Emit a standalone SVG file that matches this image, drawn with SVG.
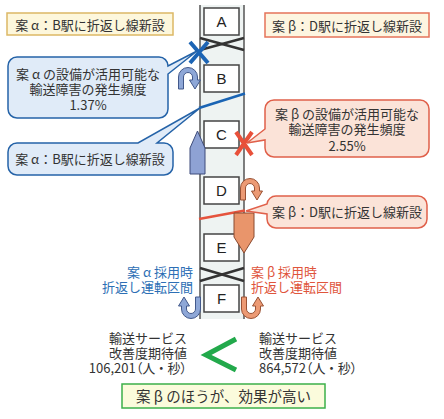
<svg xmlns="http://www.w3.org/2000/svg" width="444" height="419" viewBox="0 0 444 419">
<style>
text{font-family:"Noto Sans CJK JP","Noto Sans",sans-serif;font-size:13px;fill:#333}
.st{font-family:"Liberation Sans","Noto Sans",sans-serif;font-size:15px;text-anchor:middle;fill:#222}
.box{fill:#fff;stroke:#444;stroke-width:1.5}
.rail{stroke:#555;stroke-width:1.5}
.xo{stroke:#333;stroke-width:2.5}
.bl{fill:#e0ebf8;stroke:#2563a8;stroke-width:1.5}
.rd{fill:#fbe3d8;stroke:#e0604a;stroke-width:1.5}
.c{text-anchor:middle}
.ua{fill:#8ea7d7;stroke:#43598b;stroke-width:1}
.ur{fill:#ec9a74;stroke:#9a5234;stroke-width:1}
.p{font-feature-settings:"palt"}
</style>
<defs>
<path id="uarrow" d="M-9.5,10 L-9.5,-2 A9.5,9.5 0 0 1 9.5,-2 L9.5,1 L12.5,1 L7,10 L1.5,1 L4.5,1 L4.5,-2 A4.5,4.5 0 0 0 -4.5,-2 L-4.5,10 Z"/>
</defs>
<rect width="444" height="419" fill="#fff"/>
<g id="track">
<rect x="200" y="5" width="44" height="314" fill="#eef3f2"/>
<line class="rail" x1="200" y1="5" x2="200" y2="319"/>
<line class="rail" x1="244" y1="5" x2="244" y2="319"/>
<line class="xo" x1="200" y1="38" x2="244" y2="50"/>
<line class="xo" x1="200" y1="50" x2="244" y2="38"/>
<line class="xo" x1="200" y1="268" x2="244" y2="281"/>
<line class="xo" x1="200" y1="281" x2="244" y2="268"/>
</g>
<g id="stA"><rect class="box" x="204" y="8" width="35" height="27"/><text class="st" x="221.5" y="27">A</text></g>
<g id="stB"><rect class="box" x="204" y="65" width="35" height="27"/><text class="st" x="221.5" y="84">B</text></g>
<g id="stC"><rect class="box" x="204" y="121" width="35" height="27"/><text class="st" x="221.5" y="140">C</text></g>
<g id="stD"><rect class="box" x="204" y="177" width="35" height="27"/><text class="st" x="221.5" y="196">D</text></g>
<g id="stE"><rect class="box" x="204" y="234" width="35" height="27"/><text class="st" x="221.5" y="253">E</text></g>
<g id="stF"><rect class="box" x="204" y="285" width="35" height="27"/><text class="st" x="221.5" y="304">F</text></g>
<g id="connectors">
<line x1="199" y1="108" x2="245" y2="93.5" stroke="#1a64b4" stroke-width="2.5"/>
<line x1="199" y1="219" x2="245" y2="210.5" stroke="#e5533d" stroke-width="2.5"/>
</g>
<g id="trainA"><polygon points="190,148 197.5,131 205,148 205,174 190,174" fill="#8ea2d4" stroke="#3d4b7a" stroke-width="1"/></g>
<g id="trainB"><polygon points="234,213 254,213 254,237 244,253 234,237" fill="#e9956b" stroke="#8a4a30" stroke-width="1"/></g>
<g id="turns">
<use href="#uarrow" class="ua" transform="translate(188,79)"/>
<use href="#uarrow" class="ur" transform="translate(250,190)"/>
<use href="#uarrow" class="ua" transform="translate(191,307) rotate(180)"/>
<use href="#uarrow" class="ur" transform="translate(251,307) scale(1,-1)"/>
</g>
<g id="xmarks">
<path d="M190,42 L208,63 M208,42 L190,63" stroke="#1c64b4" stroke-width="4"/>
<path d="M236,132 L252,155 M252,132 L236,155" stroke="#e8503a" stroke-width="4"/>
</g>
<g id="labelA">
<rect x="7" y="13" width="166" height="22" fill="#fdf7dc" stroke="#dcb865" stroke-width="1.5"/>
<text class="c" x="90" y="30">案 α：B駅に折返し線新設</text>
</g>
<g id="labelB">
<rect x="265" y="13" width="164" height="24" fill="#fdf5e0" stroke="#e5735a" stroke-width="1.5"/>
<text class="c" x="347" y="31">案 β：D駅に折返し線新設</text>
</g>
<g id="calloutA1">
<path class="bl" d="M17,57 H159 A9,9 0 0 1 168,66 L197,51 L168,74 V109 A9,9 0 0 1 159,118 H17 A9,9 0 0 1 8,109 V66 A9,9 0 0 1 17,57 Z"/>
<text class="c" x="88" y="79">案 α の設備が活用可能な<tspan x="88" dy="15">輸送障害の発生頻度</tspan><tspan x="88" dy="16">1.37%</tspan></text>
</g>
<g id="calloutA2">
<path class="bl" d="M17,143 H138 L200,108 L157,143 H164 A9,9 0 0 1 173,152 V166 A9,9 0 0 1 164,175 H17 A9,9 0 0 1 8,166 V152 A9,9 0 0 1 17,143 Z"/>
<text class="c" x="90" y="164">案 α：B駅に折返し線新設</text>
</g>
<g id="calloutB1">
<path class="rd" d="M274,100 H420 A9,9 0 0 1 429,109 V148 A9,9 0 0 1 420,157 H274 A9,9 0 0 1 265,148 V140 L247,143 L265,129 V109 A9,9 0 0 1 274,100 Z"/>
<text class="c" x="347" y="119">案 β の設備が活用可能な<tspan x="347" dy="15">輸送障害の発生頻度</tspan><tspan x="347" dy="17">2.55%</tspan></text>
</g>
<g id="calloutB2">
<path class="rd" d="M276,196 H418 A9,9 0 0 1 427,205 V219 A9,9 0 0 1 418,228 H276 A9,9 0 0 1 267,219 V214 L246,211 L267,204 A9,9 0 0 1 276,196 Z"/>
<text class="c" x="347" y="217">案 β：D駅に折返し線新設</text>
</g>
<g id="sectionA">
<text x="193" y="277" text-anchor="end" style="fill:#2d6fb5">案 α 採用時<tspan x="193" dy="15">折返し運転区間</tspan></text>
</g>
<g id="sectionB">
<text x="251" y="277" style="fill:#e0553c">案 β 採用時<tspan x="251" dy="15">折返し運転区間</tspan></text>
</g>
<g id="valueA">
<text x="187" y="343" text-anchor="end">輸送サービス<tspan x="187" dy="15">改善度期待値</tspan><tspan class="p" x="187" dy="15">106,201（人 ・ 秒）</tspan></text>
</g>
<g id="compare"><polyline points="236,339 206,355 236,370" fill="none" stroke="#22a94b" stroke-width="5"/></g>
<g id="valueB">
<text x="259" y="343">輸送サービス<tspan x="259" dy="15">改善度期待値</tspan><tspan class="p" x="259" dy="15">864,572（人 ・ 秒）</tspan></text>
</g>
<g id="conclusion">
<rect x="122" y="384" width="203" height="24" fill="#fbfbdc" stroke="#3cb04a" stroke-width="1.5"/>
<text class="c" x="223.5" y="402" style="font-size:14.5px">案 β のほうが、効果が高い</text>
</g>
</svg>
